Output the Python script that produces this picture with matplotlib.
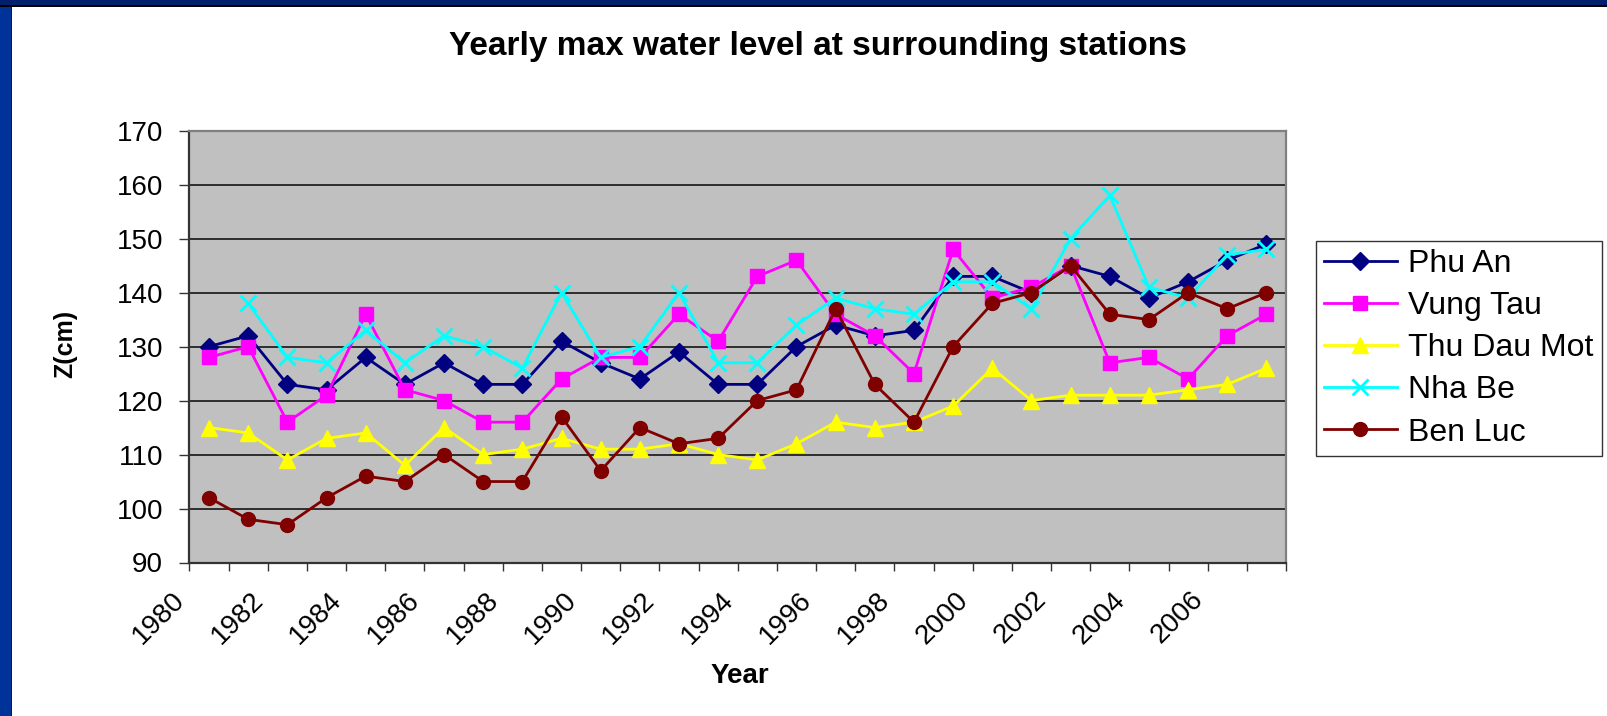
import numpy as np
import matplotlib
matplotlib.use("Agg")
import matplotlib.pyplot as plt
import matplotlib.transforms as mtransforms
from matplotlib.patches import Rectangle

plt.rcParams['font.family'] = ['Liberation Sans', 'DejaVu Sans']

# data: yearly max water level (cm)
years = list(range(1980, 2008))
phu_an = [130, 132, 123, 122, 128, 123, 127, 123, 123, 131, 127, 124, 129, 123,
          123, 130, 134, 132, 133, 143, 143, 140, 145, 143, 139, 142, 146, 149]
vung_tau = [128, 130, 116, 121, 136, 122, 120, 116, 116, 124, 128, 128, 136, 131,
            143, 146, 136, 132, 125, 148, 139, 141, 145, 127, 128, 124, 132, 136]
thu_dau_mot = [115, 114, 109, 113, 114, 108, 115, 110, 111, 113, 111, 111, 112, 110,
               109, 112, 116, 115, 116, 119, 126, 120, 121, 121, 121, 122, 123, 126]
nha_be = [np.nan, 138, 128, 127, 133, 127, 132, 130, 126, 140, 128, 130, 140, 127,
          127, 134, 139, 137, 136, 142, 142, 137, 150, 158, 141, 139, 147, 148]
ben_luc = [102, 98, 97, 102, 106, 105, 110, 105, 105, 117, 107, 115, 112, 113,
           120, 122, 137, 123, 116, 130, 138, 140, 145, 136, 135, 140, 137, 140]

series = [
    ("Phu An", phu_an, "#000080", "D", 9.5),
    ("Vung Tau", vung_tau, "#FF00FF", "s", 10),
    ("Thu Dau Mot", thu_dau_mot, "#FFFF00", "^", 11.5),
    ("Nha Be", nha_be, "#00FFFF", "x", 11),
    ("Ben Luc", ben_luc, "#800000", "o", 10),
]

W, H = 1608, 716
fig = plt.figure(figsize=(W / 100, H / 100), dpi=100)
fig.patch.set_facecolor("white")

# blue slide frame on the left and top
fig.patches.append(Rectangle((0, 0), 11 / W, 1, transform=fig.transFigure,
                             facecolor="#00339A", edgecolor="none"))
fig.patches.append(Rectangle((11 / W, 0), 1.5 / W, 1, transform=fig.transFigure,
                             facecolor="#10183A", edgecolor="none"))
fig.patches.append(Rectangle((0, 1 - 5 / H), 1, 5 / H, transform=fig.transFigure,
                             facecolor="#00206E", edgecolor="none"))
fig.patches.append(Rectangle((0, 1 - 6.5 / H), 1, 1.5 / H, transform=fig.transFigure,
                             facecolor="#000000", edgecolor="none"))

ax = fig.add_axes([189.5 / W, 1 - 562.5 / H, (1286 - 189.5) / W, (562.5 - 130.7) / H])
ax.set_facecolor("#C0C0C0")

x = np.arange(len(years))
for name, vals, col, mk, ms in series:
    ax.plot(x, vals, color=col, lw=2, marker=mk, markersize=ms,
            markerfacecolor=col, markeredgecolor=col,
            markeredgewidth=2 if mk == "x" else 1, label=name, zorder=3)

ax.set_xlim(-0.5, len(years) - 0.5)
ax.set_ylim(90, 170)
ax.set_yticks(np.arange(90, 171, 10))
ax.yaxis.grid(True, color="#222222", lw=1.3)
ax.set_axisbelow(True)

ax.set_xticks(np.arange(-0.5, len(years) - 1, 2))
ax.set_xticklabels([str(y) for y in years[::2]])
ax.set_xticks(np.arange(-0.5, len(years), 1), minor=True)
ax.tick_params(axis="x", which="both", direction="out", length=6, width=1,
               color="#333333", labelsize=20, pad=18)
ax.tick_params(axis="y", direction="out", length=7, width=1, color="#333333",
               labelsize=20, pad=12)
plt.setp(ax.get_xticklabels(), rotation=45, ha="right", va="center",
         rotation_mode="anchor")
# nudge rotated year labels a little to the left, like the original
shift = mtransforms.ScaledTranslation(-6 / 72, 0, fig.dpi_scale_trans)
for lbl in ax.get_xticklabels():
    lbl.set_transform(lbl.get_transform() + shift)

for s in ["left", "bottom"]:
    ax.spines[s].set_color("#333333")
    ax.spines[s].set_linewidth(1.6)
for s in ["top", "right"]:
    ax.spines[s].set_color("#808080")
    ax.spines[s].set_linewidth(1.6)

fig.text(818 / W, 1 - 46 / H, "Yearly max water level at surrounding stations",
         ha="center", va="center", fontsize=24, fontweight="bold")
fig.text(740 / W, 1 - 676 / H, "Year", ha="center", va="center",
         fontsize=20, fontweight="bold")
fig.text(65 / W, 1 - 344 / H, "Z(cm)", ha="center", va="center", rotation=90,
         fontsize=18, fontweight="bold")

leg = fig.legend(loc="upper left", bbox_to_anchor=(1315.7 / W, 1 - 241 / H),
                 fontsize=23, frameon=True, fancybox=False, shadow=False,
                 handlelength=2.3, labelspacing=0.38, borderpad=0.25,
                 handletextpad=0.35, borderaxespad=0)
leg.get_frame().set_edgecolor("black")
leg.get_frame().set_linewidth(1)

fig.savefig("out.png", dpi=100)
